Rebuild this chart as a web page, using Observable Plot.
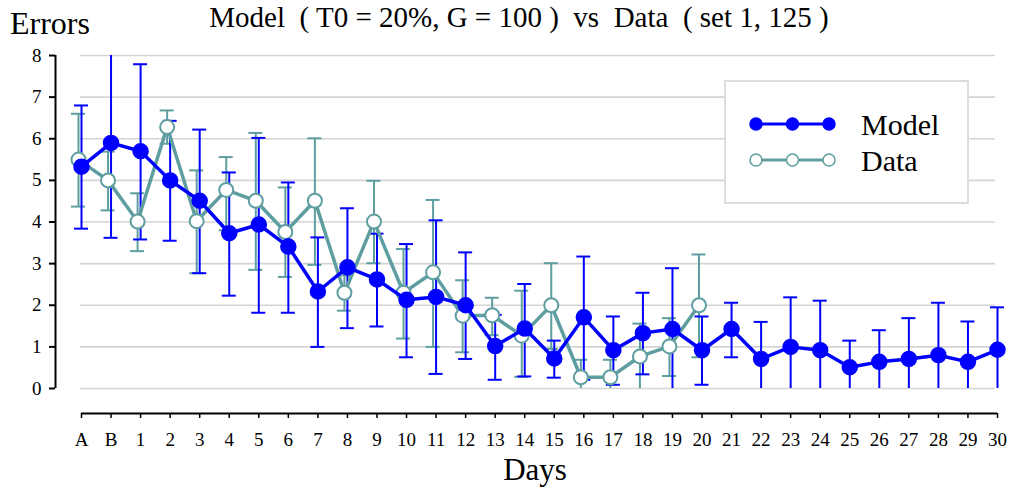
<!DOCTYPE html>
<html>
<head>
<meta charset="utf-8">
<script src="https://cdn.jsdelivr.net/npm/d3@7"></script>
<script src="https://cdn.jsdelivr.net/npm/@observablehq/plot@0.6"></script>
<style>
  html, body { margin: 0; padding: 0; background: #fff; }
  #wrap { position: relative; width: 1012px; height: 492px; font-family: "Liberation Serif", serif; color: #000; }
  #wrap svg.plot { position: absolute; left: 0; top: 0; }
  .abs { position: absolute; white-space: pre; line-height: 1; }
</style>
</head>
<body>
<div id="wrap">
  <div id="chart"></div>
  <div class="abs" id="ylab" style="left:10px; top:7px; font-size:32px;">Errors</div>
  <div class="abs" id="title" style="left:0; width:1038px; text-align:center; top:3px; font-size:29px;">Model  ( T0 = 20%, G = 100 )  vs  Data  ( set 1, 125 )</div>
  <div class="abs" id="xlab" style="left:0; width:1070px; text-align:center; top:454px; font-size:31px;">Days</div>
  <div class="abs" id="legend" style="left:724px; top:80px; width:241px; height:120px; border:2px solid #dcdcdc; background:#fff;"></div>
</div>
<script>
// Categories (x axis)
const days = ["A","B","1","2","3","4","5","6","7","8","9","10","11","12","13","14","15","16","17","18","19","20","21","22","23","24","25","26","27","28","29","30"];

// Model series (A .. 30)
const modelValues = [5.33,5.90,5.70,5.00,4.51,3.73,3.94,3.41,2.33,2.91,2.62,2.13,2.20,2.00,1.02,1.44,0.72,1.71,0.92,1.33,1.43,0.92,1.43,0.71,1.00,0.92,0.51,0.64,0.71,0.80,0.64,0.93];
const modelHigh   = [6.80,8.25,7.79,6.43,6.22,5.19,6.02,4.95,3.63,4.33,3.72,3.47,4.04,3.27,1.77,2.51,1.15,3.17,1.73,2.30,2.89,1.73,2.06,1.60,2.19,2.11,1.15,1.40,1.69,2.06,1.61,1.95];
const modelLow    = [3.84,3.62,3.58,3.55,2.77,2.23,1.82,1.82,1.00,1.45,1.49,0.75,0.35,0.71,0.21,0.29,0.26,0.21,0.09,0.34,-0.05,0.09,0.75,-0.18,-0.19,-0.27,-0.13,-0.12,-0.27,-0.46,-0.33,-0.09];

// Data series (A .. 20)
const dataValues = [5.50,5.00,4.01,6.28,4.02,4.77,4.51,3.76,4.51,2.30,4.01,2.30,2.79,1.75,1.76,1.27,2.00,0.27,0.27,0.77,1.01,2.00];
const dataHigh   = [6.60,5.69,4.69,6.68,5.24,5.56,6.14,4.83,6.01,2.72,4.99,3.35,4.53,2.60,2.18,2.35,3.01,0.69,0.69,1.56,1.69,3.22];
const dataLow    = [4.37,4.28,3.30,5.88,2.77,3.80,2.85,2.68,2.97,1.87,3.01,1.20,1.00,0.87,1.28,0.28,0.95,-0.12,-0.12,-0.04,0.30,0.75];

const yTicks = [0,1,2,3,4,5,6,7,8];

const BLUE = "#0000ff";
const TEAL = "#5f9ea0";

const model = days.map((d, i) => ({day: d, v: modelValues[i], lo: modelLow[i], hi: modelHigh[i]}));
const data = days.slice(0, dataValues.length).map((d, i) => ({day: d, v: dataValues[i], lo: dataLow[i], hi: dataHigh[i]}));

const tealDx = -3;
const capInset = -7;

const chart = Plot.plot({
  width: 1012,
  height: 492,
  marginLeft: 81,
  marginRight: 15,
  marginTop: 55,
  marginBottom: 104,
  x: {type: "point", domain: days, padding: 0, round: false},
  y: {domain: [0, 8], clamp: true},
  style: {fontFamily: "Liberation Serif, serif", fontSize: "19px", background: "transparent", color: "#000", overflow: "visible"},
  marks: [
    // gridlines
    Plot.ruleY(yTicks, {x1: () => "A", x2: () => "30", stroke: "#d4d4d4", strokeWidth: 1.6, insetLeft: -1, insetRight: 2}),
    // y axis line + ticks + labels
    Plot.ruleX(["A"], {x: d => d, y1: () => 0, y2: () => 8, dx: -26, stroke: "#000", strokeWidth: 2}),
    Plot.axisY({ticks: yTicks, tickSize: 6, tickPadding: 8, dx: -26, label: null, fontSize: 19, strokeWidth: 2}),
    // x axis line + ticks + labels
    Plot.ruleY([0], {x1: () => "A", x2: () => "30", dy: 25, stroke: "#000", strokeWidth: 2}),
    Plot.axisX({tickSize: 5, tickPadding: 14, dy: 25, label: null, fontSize: 19, strokeWidth: 1.5}),
    // data error bars
    Plot.ruleX(data, {x: "day", y1: "lo", y2: "hi", stroke: TEAL, strokeWidth: 2, dx: tealDx}),
    Plot.ruleY(data.filter(d => d.hi <= 8), {y: "hi", x1: "day", x2: "day", insetLeft: capInset, insetRight: capInset, stroke: TEAL, strokeWidth: 2, dx: tealDx}),
    Plot.ruleY(data.filter(d => d.lo >= 0), {y: "lo", x1: "day", x2: "day", insetLeft: capInset, insetRight: capInset, stroke: TEAL, strokeWidth: 2, dx: tealDx}),
    // model error bars
    Plot.ruleX(model, {x: "day", y1: "lo", y2: "hi", stroke: BLUE, strokeWidth: 2}),
    Plot.ruleY(model.filter(d => d.hi <= 8), {y: "hi", x1: "day", x2: "day", insetLeft: capInset, insetRight: capInset, stroke: BLUE, strokeWidth: 2}),
    Plot.ruleY(model.filter(d => d.lo >= 0), {y: "lo", x1: "day", x2: "day", insetLeft: capInset, insetRight: capInset, stroke: BLUE, strokeWidth: 2}),
    // data line + hollow dots
    Plot.line(data, {x: "day", y: "v", stroke: TEAL, strokeWidth: 3.5, dx: tealDx}),
    Plot.dot(data, {x: "day", y: "v", r: 7, fill: "#fff", stroke: TEAL, strokeWidth: 2, dx: tealDx}),
    // model line + filled dots
    Plot.line(model, {x: "day", y: "v", stroke: BLUE, strokeWidth: 3.5}),
    Plot.dot(model, {x: "day", y: "v", r: 7.5, fill: BLUE, stroke: BLUE, strokeWidth: 1.5})
  ]
});
chart.classList.add("plot");
document.getElementById("chart").appendChild(chart);

// Legend
const legendItems = [
  {name: "Model", color: BLUE, fill: BLUE},
  {name: "Data", color: TEAL, fill: "#fff"}
];
const ns = "http://www.w3.org/2000/svg";
const lsvg = document.createElementNS(ns, "svg");
lsvg.setAttribute("width", 241);
lsvg.setAttribute("height", 120);
lsvg.style.position = "absolute";
lsvg.style.left = "0";
lsvg.style.top = "0";
legendItems.forEach((it, i) => {
  const cy = 42 + i * 36;
  const ln = document.createElementNS(ns, "line");
  ln.setAttribute("x1", 30); ln.setAttribute("x2", 103);
  ln.setAttribute("y1", cy); ln.setAttribute("y2", cy);
  ln.setAttribute("stroke", it.color); ln.setAttribute("stroke-width", 3);
  lsvg.appendChild(ln);
  [30, 66.5, 103].forEach(cx => {
    const c = document.createElementNS(ns, "circle");
    c.setAttribute("cx", cx); c.setAttribute("cy", cy); c.setAttribute("r", 6);
    c.setAttribute("fill", it.fill); c.setAttribute("stroke", it.color); c.setAttribute("stroke-width", 1.5);
    lsvg.appendChild(c);
  });
  const t = document.createElementNS(ns, "text");
  t.setAttribute("x", 135); t.setAttribute("y", cy + 11);
  t.setAttribute("font-family", "Liberation Serif, serif");
  t.setAttribute("font-size", 30);
  t.textContent = it.name;
  lsvg.appendChild(t);
});
document.getElementById("legend").appendChild(lsvg);
</script>
</body>
</html>
